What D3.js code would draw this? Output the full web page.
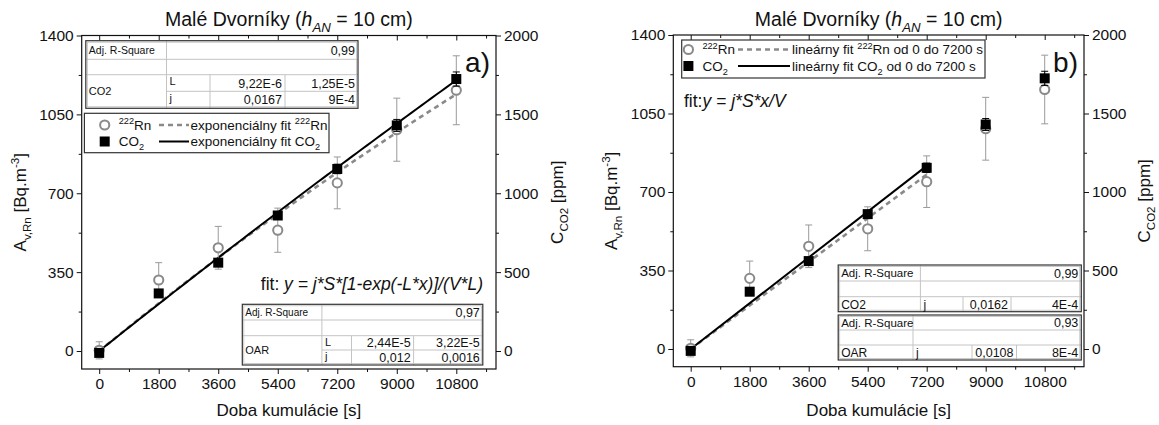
<!DOCTYPE html>
<html><head><meta charset="utf-8">
<script src="https://cdn.jsdelivr.net/npm/d3@7"></script>
<style>
body{margin:0;background:#fff}
svg{display:block}
text{font-family:"Liberation Sans",Arial,Helvetica,sans-serif;fill:#111}
</style>
</head><body>
<svg id="chart" width="1159" height="425"></svg>
<script>
// Accumulation times (s) and measured concentrations
const timeS    = [0, 1800, 3600, 5400, 7200, 9000, 10800];
const radonBq  = [3, 315, 458, 536, 746, 982, 1157];     // A_v,Rn [Bq.m-3]
const radonErr = [38, 77, 95, 98, 115, 140, 153];
const co2Ppm   = [-12, 365, 560, 859, 1154, 1430, 1724]; // C_CO2 [ppm]
const co2Err   = [10, 12, 15, 22, 30, 38, 45];

// Tick values
const xTicks       = [0, 1800, 3600, 5400, 7200, 9000, 10800];
const xMinorTicks  = [900, 2700, 4500, 6300, 8100, 9900, 11700];
const yLeftTicks   = [0, 350, 700, 1050, 1400];
const yLeftMinor   = [175, 525, 875, 1225];
const yRightTicks  = [0, 500, 1000, 1500, 2000];
const yRightMinor  = [250, 750, 1250, 1750];

// Fit parameters (j, L) and chamber geometry S/V = 1/h_AN (h_AN = 0.1 m)
const surfaceToVolume = 10;
const expFitRn  = {j: 0.012,  L: 2.44e-5};
const expFitCo2 = {j: 0.0167, L: 9.22e-6};
const linFitRn  = {j: 0.0108};
const linFitCo2 = {j: 0.0162};
const linFitEnd = 7200;

const GRAY = "#8a8a8a", ERR_GRAY = "#9a9a9a";
const svg = d3.select("#chart");
const plain = d3.format("d");

// ---------- helpers ----------
function rich(sel, parts, size) {
  let shift = 0;
  parts.forEach(p => {
    const ts = sel.append("tspan").text(p.t);
    let target = 0;
    if (p.sub) target = size * 0.3;
    if (p.sup) target = -size * 0.42;
    if (target !== shift) { ts.attr("dy", target - shift); shift = target; }
    if (p.sub || p.sup) ts.attr("font-size", size * 0.68);
    if (p.it) ts.attr("font-style", "italic");
  });
  return sel;
}

function drawTable(g, cols, rows, spec) {
  const t = g.append("g");
  const W = cols[cols.length - 1] - cols[0], H = rows[rows.length - 1] - rows[0];
  t.append("rect").attr("x", cols[0]).attr("y", rows[0]).attr("width", W).attr("height", H)
    .attr("fill", "#fff").attr("stroke", "none");
  const light = "#c4c4c4";
  spec.hLines.forEach(h => t.append("line").attr("x1", cols[h.from]).attr("x2", cols[h.to])
    .attr("y1", rows[h.row]).attr("y2", rows[h.row]).attr("stroke", light).attr("stroke-width", 1));
  spec.vLines.forEach(v => t.append("line").attr("x1", cols[v.col]).attr("x2", cols[v.col])
    .attr("y1", rows[v.from]).attr("y2", rows[v.to]).attr("stroke", light).attr("stroke-width", 1));
  t.append("rect").attr("x", cols[0] + 1.5).attr("y", rows[0] + 1.5).attr("width", W - 3).attr("height", H - 3)
    .attr("fill", "none").attr("stroke", "#bdbdbd").attr("stroke-width", 0.8);
  t.append("rect").attr("x", cols[0]).attr("y", rows[0]).attr("width", W).attr("height", H)
    .attr("fill", "none").attr("stroke", "#333").attr("stroke-width", 1.2);
  spec.cells.forEach(c => {
    const x0 = cols[c.c0], x1 = cols[c.c1], y0 = rows[c.r0], y1 = rows[c.r1];
    const txt = t.append("text").attr("font-size", c.size);
    if (c.align === "right") txt.attr("x", x1 - 3).attr("text-anchor", "end");
    else txt.attr("x", x0 + 3);
    if (c.top) txt.attr("y", y0 + c.size * 0.95);
    else txt.attr("y", (y0 + y1) / 2 + c.size * 0.36);
    txt.text(c.t);
  });
}

function drawPanel(P) {
  const g = svg.append("g");
  const x = d3.scaleLinear().domain([0, 10800]).range([P.x0v, P.x10800]);
  const y = d3.scaleLinear().domain([0, 1400]).range([P.y0v, P.yTop]);
  const yR = d3.scaleLinear().domain([0, 2000]).range([P.y0v, P.yTop]);

  const axStyle = a => { a.select(".domain").remove(); a.selectAll("line").attr("stroke", "#111");
    a.selectAll("text").attr("font-size", 15.5).attr("fill", "#111"); };

  g.append("g").attr("transform", `translate(0,${P.yBot})`)
    .call(d3.axisBottom(x).tickValues(xTicks).tickSize(5).tickPadding(4).tickFormat(plain)).call(axStyle);
  g.append("g").attr("transform", `translate(0,${P.yBot})`)
    .call(d3.axisBottom(x).tickValues(xMinorTicks).tickSize(3).tickFormat("")).call(axStyle);
  g.append("g").attr("transform", `translate(0,${P.yTop})`)
    .call(d3.axisBottom(x).tickValues(xTicks).tickSize(5).tickFormat("")).call(axStyle);
  g.append("g").attr("transform", `translate(0,${P.yTop})`)
    .call(d3.axisBottom(x).tickValues(xMinorTicks.filter(v => x(v) < P.x1 - 1)).tickSize(3).tickFormat("")).call(axStyle);

  g.append("g").attr("transform", `translate(${P.x0},0)`)
    .call(d3.axisLeft(y).tickValues(yLeftTicks).tickSize(5).tickPadding(3).tickFormat(plain)).call(axStyle);
  g.append("g").attr("transform", `translate(${P.x0},0)`)
    .call(d3.axisLeft(y).tickValues(yLeftMinor).tickSize(3).tickFormat("")).call(axStyle);
  g.append("g").attr("transform", `translate(${P.x1},0)`)
    .call(d3.axisRight(yR).tickValues(yRightTicks).tickSize(5).tickPadding(3).tickFormat(plain)).call(axStyle);
  g.append("g").attr("transform", `translate(${P.x1},0)`)
    .call(d3.axisRight(yR).tickValues(yRightMinor).tickSize(3).tickFormat("")).call(axStyle);

  g.append("rect").attr("x", P.x0).attr("y", P.yTop).attr("width", P.x1 - P.x0).attr("height", P.yBot - P.yTop)
    .attr("fill", "none").attr("stroke", "#111").attr("stroke-width", 1.2);

  const cx = (P.x0 + P.x1) / 2;
  rich(g.append("text").attr("x", cx).attr("y", 26).attr("text-anchor", "middle").attr("font-size", 19.5),
    [{t: "Malé Dvorníky ("}, {t: "h", it: true}, {t: "AN", it: true, sub: true}, {t: " = 10 cm)"}], 19.5);
  g.append("text").attr("x", cx).attr("y", 416).attr("text-anchor", "middle").attr("font-size", 17)
    .text("Doba kumulácie [s]");
  rich(g.append("text").attr("transform", `translate(${P.yLabelX},${(P.yTop + P.yBot) / 2}) rotate(-90)`)
      .attr("text-anchor", "middle").attr("font-size", 17),
    [{t: "A"}, {t: "v,Rn", sub: true}, {t: " [Bq.m"}, {t: "-3", sup: true}, {t: "]"}], 17);
  rich(g.append("text").attr("transform", `translate(${P.y2LabelX},${(P.yTop + P.yBot) / 2}) rotate(-90)`)
      .attr("text-anchor", "middle").attr("font-size", 17),
    [{t: "C"}, {t: "CO2", sub: true}, {t: " [ppm]"}], 17);

  // fit curves
  const line = d3.line();
  const sv = surfaceToVolume;
  let rnCurve, coCurve;
  if (P.fit === "exp") {
    const xs = d3.range(0, 10800 + 1, 150);
    rnCurve = xs.map(t => [x(t), y(expFitRn.j * sv * (1 - Math.exp(-expFitRn.L * t)) / expFitRn.L)]);
    coCurve = xs.map(t => [x(t), yR(expFitCo2.j * sv * (1 - Math.exp(-expFitCo2.L * t)) / expFitCo2.L)]);
  } else {
    rnCurve = [0, linFitEnd].map(t => [x(t), y(linFitRn.j * sv * t)]);
    coCurve = [0, linFitEnd].map(t => [x(t), yR(linFitCo2.j * sv * t)]);
  }
  g.append("path").attr("d", line(rnCurve)).attr("fill", "none").attr("stroke", GRAY)
    .attr("stroke-width", 2.6).attr("stroke-dasharray", "5,4");
  g.append("path").attr("d", line(coCurve)).attr("fill", "none").attr("stroke", "#000").attr("stroke-width", 2);

  // radon error bars + circles
  const cap = 3.5;
  const rn = g.append("g");
  timeS.forEach((t, i) => {
    const px = x(t), top = y(radonBq[i] + radonErr[i]), bot = y(radonBq[i] - radonErr[i]);
    rn.append("line").attr("x1", px).attr("x2", px).attr("y1", top).attr("y2", bot).attr("stroke", ERR_GRAY);
    rn.append("line").attr("x1", px - cap).attr("x2", px + cap).attr("y1", top).attr("y2", top).attr("stroke", ERR_GRAY);
    rn.append("line").attr("x1", px - cap).attr("x2", px + cap).attr("y1", bot).attr("y2", bot).attr("stroke", ERR_GRAY);
  });
  rn.selectAll("circle").data(timeS).join("circle")
    .attr("cx", t => x(t)).attr("cy", (t, i) => y(radonBq[i])).attr("r", 4.6)
    .attr("fill", "#fff").attr("stroke", GRAY).attr("stroke-width", 2);

  // CO2 error bars + squares
  const co = g.append("g");
  timeS.forEach((t, i) => {
    const px = x(t), top = yR(co2Ppm[i] + co2Err[i]), bot = yR(co2Ppm[i] - co2Err[i]);
    co.append("line").attr("x1", px).attr("x2", px).attr("y1", top).attr("y2", bot).attr("stroke", "#000");
    co.append("line").attr("x1", px - cap).attr("x2", px + cap).attr("y1", top).attr("y2", top).attr("stroke", "#000");
    co.append("line").attr("x1", px - cap).attr("x2", px + cap).attr("y1", bot).attr("y2", bot).attr("stroke", "#000");
  });
  const sq = 10;
  co.selectAll("rect").data(timeS).join("rect")
    .attr("x", t => x(t) - sq / 2).attr("y", (t, i) => yR(co2Ppm[i]) - sq / 2)
    .attr("width", sq).attr("height", sq).attr("fill", "#000");

  g.append("text").attr("x", P.letterX).attr("y", 72).attr("text-anchor", "end").attr("font-size", 28)
    .text(P.letter);

  return {g, x, y};
}

function legend(g, box, rows, mk, lineX, textX, size) {
  g.append("rect").attr("x", box[0]).attr("y", box[1]).attr("width", box[2] - box[0]).attr("height", box[3] - box[1])
    .attr("fill", "#fff").attr("stroke", "#333").attr("stroke-width", 1.2);
  rows.forEach(r => {
    if (r.kind === "rn") {
      g.append("circle").attr("cx", mk).attr("cy", r.y).attr("r", 4.6).attr("fill", "#fff")
        .attr("stroke", GRAY).attr("stroke-width", 2);
      g.append("line").attr("x1", lineX[0]).attr("x2", lineX[1]).attr("y1", r.y).attr("y2", r.y)
        .attr("stroke", GRAY).attr("stroke-width", 2.6).attr("stroke-dasharray", "5,4");
    } else {
      g.append("rect").attr("x", mk - 5).attr("y", r.y - 5).attr("width", 10).attr("height", 10).attr("fill", "#000");
      g.append("line").attr("x1", lineX[0]).attr("x2", lineX[1]).attr("y1", r.y).attr("y2", r.y)
        .attr("stroke", "#000").attr("stroke-width", 2);
    }
    const base = r.y + size * 0.36;
    rich(g.append("text").attr("x", mk + 14).attr("y", base).attr("font-size", size), r.name, size);
    rich(g.append("text").attr("x", textX).attr("y", base).attr("font-size", size), r.label, size);
  });
}

// ---------- panel a) ----------
const A = drawPanel({x0: 81.7, x1: 496, x0v: 99.2, x10800: 456.3, yTop: 35.5, y0v: 351, yBot: 369,
  yLabelX: 26, y2LabelX: 563, letter: "a)", letterX: 490, fit: "exp"});

drawTable(A.g, [85.8, 166.5, 210, 285, 358], [40.7, 59.3, 74.7, 91.3, 108.3], {
  hLines: [{row: 1, from: 0, to: 4}, {row: 2, from: 0, to: 4}, {row: 3, from: 1, to: 4}],
  vLines: [{col: 1, from: 0, to: 4}, {col: 2, from: 2, to: 4}, {col: 3, from: 2, to: 4}],
  cells: [
    {t: "Adj. R-Square", c0: 0, c1: 1, r0: 0, r1: 1, size: 10.5},
    {t: "0,99", c0: 1, c1: 4, r0: 0, r1: 1, size: 12.5, align: "right"},
    {t: "CO2", c0: 0, c1: 1, r0: 2, r1: 4, size: 11},
    {t: "L", c0: 1, c1: 2, r0: 2, r1: 3, size: 11, top: true},
    {t: "j", c0: 1, c1: 2, r0: 3, r1: 4, size: 11, top: true},
    {t: "9,22E-6", c0: 2, c1: 3, r0: 2, r1: 3, size: 12.5, align: "right"},
    {t: "1,25E-5", c0: 3, c1: 4, r0: 2, r1: 3, size: 12.5, align: "right"},
    {t: "0,0167", c0: 2, c1: 3, r0: 3, r1: 4, size: 12.5, align: "right"},
    {t: "9E-4", c0: 3, c1: 4, r0: 3, r1: 4, size: 12.5, align: "right"}
  ]});

drawTable(A.g, [242.3, 321.9, 351.5, 413.6, 482.8], [304.3, 320, 335.7, 350, 365], {
  hLines: [{row: 1, from: 0, to: 4}, {row: 2, from: 0, to: 4}, {row: 3, from: 1, to: 4}],
  vLines: [{col: 1, from: 0, to: 4}, {col: 2, from: 2, to: 4}, {col: 3, from: 2, to: 4}],
  cells: [
    {t: "Adj. R-Square", c0: 0, c1: 1, r0: 0, r1: 1, size: 10},
    {t: "0,97", c0: 1, c1: 4, r0: 0, r1: 1, size: 12.5, align: "right"},
    {t: "OAR", c0: 0, c1: 1, r0: 2, r1: 4, size: 11},
    {t: "L", c0: 1, c1: 2, r0: 2, r1: 3, size: 11, top: true},
    {t: "j", c0: 1, c1: 2, r0: 3, r1: 4, size: 11, top: true},
    {t: "2,44E-5", c0: 2, c1: 3, r0: 2, r1: 3, size: 12.5, align: "right"},
    {t: "3,22E-5", c0: 3, c1: 4, r0: 2, r1: 3, size: 12.5, align: "right"},
    {t: "0,012", c0: 2, c1: 3, r0: 3, r1: 4, size: 12.5, align: "right"},
    {t: "0,0016", c0: 3, c1: 4, r0: 3, r1: 4, size: 12.5, align: "right"}
  ]});

rich(A.g.append("text").attr("x", 483).attr("y", 290).attr("text-anchor", "end").attr("font-size", 17.5),
  [{t: "fit: "}, {t: "y = j*S*[1-exp(-L*x)]/(V*L)", it: true}], 17.5);

legend(A.g, [84.4, 113.3, 329, 152.7], [
  {kind: "rn", y: 125, name: [{t: "222", sup: true}, {t: "Rn"}],
   label: [{t: "exponenciálny fit "}, {t: "222", sup: true}, {t: "Rn"}]},
  {kind: "co", y: 141.5, name: [{t: "CO"}, {t: "2", sub: true}],
   label: [{t: "exponenciálny fit CO"}, {t: "2", sub: true}]}
], 104.7, [159, 189], 190.5, 13.5);

// ---------- panel b) ----------
const B = drawPanel({x0: 673.3, x1: 1084, x0v: 690.7, x10800: 1044.7, yTop: 35, y0v: 349, yBot: 366.7,
  yLabelX: 617, y2LabelX: 1150, letter: "b)", letterX: 1078, fit: "lin"});

legend(B.g, [681.7, 40, 985, 78], [
  {kind: "rn", y: 49.5, name: [{t: "222", sup: true}, {t: "Rn"}],
   label: [{t: "lineárny fit "}, {t: "222", sup: true}, {t: "Rn od 0 do 7200 s"}]},
  {kind: "co", y: 66, name: [{t: "CO"}, {t: "2", sub: true}],
   label: [{t: "lineárny fit CO"}, {t: "2", sub: true}, {t: " od 0 do 7200 s"}]}
], 688.4, [738, 790], 792, 13.5);

rich(B.g.append("text").attr("x", 684).attr("y", 107).attr("font-size", 17.5),
  [{t: "fit:"}, {t: "y = j*S*x/V", it: true}], 17.5);

drawTable(B.g, [838.2, 920.4, 963, 1011, 1081.3], [265, 281, 296.7, 311.7], {
  hLines: [{row: 1, from: 0, to: 4}, {row: 2, from: 0, to: 4}],
  vLines: [{col: 1, from: 0, to: 3}, {col: 2, from: 2, to: 3}, {col: 3, from: 2, to: 3}],
  cells: [
    {t: "Adj. R-Square", c0: 0, c1: 1, r0: 0, r1: 1, size: 11.5},
    {t: "0,99", c0: 1, c1: 4, r0: 0, r1: 1, size: 12.5, align: "right"},
    {t: "CO2", c0: 0, c1: 1, r0: 2, r1: 3, size: 12},
    {t: "j", c0: 1, c1: 2, r0: 2, r1: 3, size: 12},
    {t: "0,0162", c0: 2, c1: 3, r0: 2, r1: 3, size: 12.5, align: "right"},
    {t: "4E-4", c0: 3, c1: 4, r0: 2, r1: 3, size: 12.5, align: "right"}
  ]});

drawTable(B.g, [838.2, 913, 972, 1016.5, 1081.3], [315, 330, 345, 360], {
  hLines: [{row: 1, from: 0, to: 4}, {row: 2, from: 0, to: 4}],
  vLines: [{col: 1, from: 0, to: 3}, {col: 2, from: 2, to: 3}, {col: 3, from: 2, to: 3}],
  cells: [
    {t: "Adj. R-Square", c0: 0, c1: 1, r0: 0, r1: 1, size: 11.5},
    {t: "0,93", c0: 1, c1: 4, r0: 0, r1: 1, size: 12.5, align: "right"},
    {t: "OAR", c0: 0, c1: 1, r0: 2, r1: 3, size: 12},
    {t: "j", c0: 1, c1: 2, r0: 2, r1: 3, size: 12},
    {t: "0,0108", c0: 2, c1: 3, r0: 2, r1: 3, size: 12.5, align: "right"},
    {t: "8E-4", c0: 3, c1: 4, r0: 2, r1: 3, size: 12.5, align: "right"}
  ]});
</script>
</body></html>
